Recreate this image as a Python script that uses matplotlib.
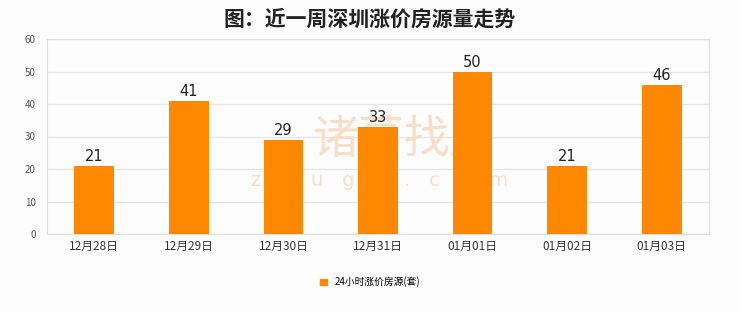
import matplotlib
matplotlib.use('Agg')
import matplotlib.pyplot as plt
from matplotlib.patches import Patch

plt.rcParams['font.family'] = ['Noto Sans CJK SC', 'DejaVu Sans']

# data
dates = ['12月28日', '12月29日', '12月30日', '12月31日', '01月01日', '01月02日', '01月03日']
counts = [21, 41, 29, 33, 50, 21, 46]
series_name = '24小时涨价房源(套)'
title = '图：近一周深圳涨价房源量走势'

ORANGE = '#ff8800'
BG = '#fdfdfd'
WM = '#f8dfc8'

fig = plt.figure(figsize=(7.4, 3.12), dpi=100, facecolor=BG)
ax = fig.add_axes([47/740, 1 - 234/312, 662/740, 195/312])
ax.set_facecolor(BG)

x = range(len(dates))
bars = ax.bar(x, counts, width=0.42, color=ORANGE, zorder=3)
for xi, v in zip(x, counts):
    ax.text(xi, v + 0.4, str(v), ha='center', va='bottom', fontsize=10.5,
            color='#222222', family='DejaVu Sans', zorder=4)

ax.set_xlim(-0.5, len(dates) - 0.5)
ax.set_ylim(0, 60)
ax.set_yticks(range(0, 61, 10))
ax.set_xticks(list(x))
ax.set_xticklabels(dates, fontsize=8.5, color='#333333')
ax.tick_params(axis='y', labelsize=7, colors='#555555', length=0, pad=8)
ax.tick_params(axis='x', length=0, pad=4)
ax.grid(axis='y', color='#e6e6e6', linewidth=1, zorder=0)
ax.set_axisbelow(True)
for s in ax.spines.values():
    s.set_color('#e0e0e0')

# watermark (behind the bars)
ax.text((405 - 47) / 662, (234 - 140) / 195, '诸葛找房', transform=ax.transAxes,
        fontsize=33, color=WM, ha='center', va='center', zorder=1)
ax.text((380 - 47) / 662, (234 - 181) / 195, 'z   h   u   g   e   .   c   o   m',
        transform=ax.transAxes, fontsize=14, color=WM, ha='center', va='center',
        family='DejaVu Sans', zorder=1)

fig.text(0.5, 1 - 19/312, title, ha='center', va='center', fontsize=15,
         fontweight='bold', color='#222222')

ax.legend(handles=[Patch(color=ORANGE, label=series_name)], loc='center',
          bbox_to_anchor=(0.5, 1 - 282/312), bbox_transform=fig.transFigure,
          frameon=False, fontsize=7, handlelength=0.7, handleheight=0.7,
          handletextpad=0.8)

fig.savefig('out.png', dpi=100, facecolor=BG)
